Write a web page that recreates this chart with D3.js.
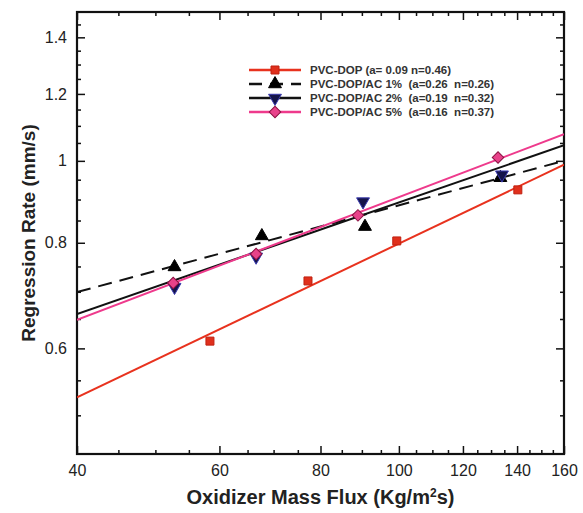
<!DOCTYPE html>
<html><head><meta charset="utf-8">
<script src="https://cdn.jsdelivr.net/npm/d3@7"></script>
<style>body{margin:0;background:#fff}svg{display:block}text{font-family:"Liberation Sans",Arial,sans-serif}</style>
</head><body>
<svg id="c" width="583" height="513"></svg>
<script>
// ---- data ----
const xTicks = [40, 60, 80, 100, 120, 140, 160];
const xMinor = [45, 50, 55, 65, 70, 75, 85, 90, 95, 105, 110, 115, 125, 130, 135, 145, 150, 155];
const yTicks = [0.6, 0.8, 1, 1.2, 1.4];
const yMinor = [0.5, 0.55, 0.65, 0.7, 0.75, 0.85, 0.9, 0.95, 1.05, 1.1, 1.15, 1.25, 1.3, 1.35, 1.45];
const seriesNames = ["PVC-DOP (a= 0.09 n=0.46)", "PVC-DOP/AC 1%  (a=0.26  n=0.26)", "PVC-DOP/AC 2%  (a=0.19  n=0.32)", "PVC-DOP/AC 5%  (a=0.16  n=0.37)"];
const fluxDOP = [58.4, 77.2, 99.4, 140.3];
const rateDOP = [0.612, 0.721, 0.804, 0.924];
const fluxAC1 = [52.8, 67.7, 90.8, 133.5];
const rateAC1 = [0.749, 0.815, 0.836, 0.955];
const fluxAC2 = [52.8, 66.6, 90.3, 134.1];
const rateAC2 = [0.709, 0.770, 0.895, 0.963];
const fluxAC5 = [52.6, 66.6, 89.0, 132.6];
const rateAC5 = [0.717, 0.776, 0.862, 1.009];
// power-law fit lines r = a * G^n (as drawn)
const fitA = [0.0973, 0.270, 0.194, 0.1687];
const fitN = [0.457, 0.258, 0.3315, 0.365];

// ---- styles ----
const styles = [
  {line:"#e8321e", dash:null, sym:d3.symbolSquare, size:64, fill:"#e0301c", stroke:"#c02010", rot:0},
  {line:"#111", dash:"14,8", sym:d3.symbolTriangle, size:72, fill:"#000", stroke:"#000", rot:0},
  {line:"#111", dash:null, sym:d3.symbolTriangle, size:72, fill:"#15154a", stroke:"#3a3ab0", rot:180},
  {line:"#ee3a8c", dash:null, sym:d3.symbolSquare, size:66, fill:"#e8428a", stroke:"#8a1040", rot:45}
];
const fluxes = [fluxDOP, fluxAC1, fluxAC2, fluxAC5];
const rates = [rateDOP, rateAC1, rateAC2, rateAC5];

const svg = d3.select("#c");
const L = 77, R = 564, T = 12, B = 454;
const x = d3.scaleLog().domain([40, 160]).range([L, R]);
const y = d3.scaleLog().domain([0.45, 1.5]).range([B, T]);

svg.append("clipPath").attr("id","clip").append("rect").attr("x",L).attr("y",T).attr("width",R-L).attr("height",B-T);

// axes
function styleAxis(g){ g.select(".domain").remove(); g.selectAll("line").attr("stroke","#111").attr("stroke-width",1.5); g.selectAll("text").attr("fill","#222").style("font-size","16px"); }
svg.append("g").attr("transform",`translate(0,${B})`).call(d3.axisBottom(x).tickValues(xTicks).tickFormat(d3.format("d")).tickSize(-8).tickPadding(11)).call(styleAxis);
svg.append("g").attr("transform",`translate(0,${B})`).call(d3.axisBottom(x).tickValues(xMinor).tickFormat("").tickSize(-4)).call(styleAxis);
svg.append("g").attr("transform",`translate(0,${T})`).call(d3.axisTop(x).tickValues(xTicks).tickFormat("").tickSize(-8)).call(styleAxis);
svg.append("g").attr("transform",`translate(0,${T})`).call(d3.axisTop(x).tickValues(xMinor).tickFormat("").tickSize(-4)).call(styleAxis);
svg.append("g").attr("transform",`translate(${L},0)`).call(d3.axisLeft(y).tickValues(yTicks).tickFormat(d3.format("~g")).tickSize(-8).tickPadding(10)).call(styleAxis);
svg.append("g").attr("transform",`translate(${L},0)`).call(d3.axisLeft(y).tickValues(yMinor).tickFormat("").tickSize(-4)).call(styleAxis);
svg.append("g").attr("transform",`translate(${R},0)`).call(d3.axisRight(y).tickValues(yTicks).tickFormat("").tickSize(-8)).call(styleAxis);
svg.append("g").attr("transform",`translate(${R},0)`).call(d3.axisRight(y).tickValues(yMinor).tickFormat("").tickSize(-4)).call(styleAxis);

svg.append("rect").attr("x",L).attr("y",T).attr("width",R-L).attr("height",B-T).attr("fill","none").attr("stroke","#111").attr("stroke-width",2.2);

// fit lines
const lineGen = d3.line().x(d=>x(d[0])).y(d=>y(d[1]));
const plot = svg.append("g").attr("clip-path","url(#clip)");
fitA.forEach((a,i)=>{
  const pts = x.domain().map(g=>[g, a*Math.pow(g, fitN[i])]);
  plot.append("path").attr("d",lineGen(pts)).attr("fill","none").attr("stroke",styles[i].line).attr("stroke-width",2).attr("stroke-dasharray",styles[i].dash);
});

// markers
const sym = (s)=>d3.symbol().type(s.sym).size(s.size)();
fluxes.forEach((fx,i)=>{
  const s = styles[i];
  plot.append("g").selectAll("path").data(fx.map((f,j)=>[f,rates[i][j]])).join("path")
    .attr("d",sym(s)).attr("transform",d=>`translate(${x(d[0])},${y(d[1])}) rotate(${s.rot})`)
    .attr("fill",s.fill).attr("stroke",s.stroke).attr("stroke-width",1);
});

// legend
const lg = svg.append("g");
const lx0 = 249, lx1 = 301, ly0 = 70, ldy = 14;
seriesNames.forEach((n,i)=>{
  const s = styles[i], yy = ly0 + i*ldy;
  lg.append("line").attr("x1",lx0).attr("x2",lx1).attr("y1",yy).attr("y2",yy).attr("stroke",s.line).attr("stroke-width",2.5).attr("stroke-dasharray",s.dash?"13,8":null);
  lg.append("path").attr("d",sym(s)).attr("transform",`translate(${(lx0+lx1)/2},${yy}) rotate(${s.rot})`).attr("fill",s.fill).attr("stroke",s.stroke);
  lg.append("text").attr("x",310).attr("y",yy).attr("dy","0.36em").style("font-size","11.5px").style("font-weight","bold").style("white-space","pre").attr("fill","#333").text(n);
});

// axis titles
svg.append("text").attr("x",(L+R)/2).attr("y",504).attr("text-anchor","middle").style("font-size","20px").style("font-weight","bold").attr("fill","#222")
  .text("Oxidizer Mass Flux (Kg/m").append("tspan").attr("dy","-7").style("font-size","12px").text("2")
  .select(function(){return this.parentNode;}).append("tspan").attr("dy","7").text("s)");
svg.append("text").attr("transform",`translate(28,${(T+B)/2}) rotate(-90)`).attr("text-anchor","middle").attr("dy","0.35em").style("font-size","19px").style("font-weight","bold").attr("fill","#222").text("Regression Rate (mm/s)");
</script>
</body></html>
